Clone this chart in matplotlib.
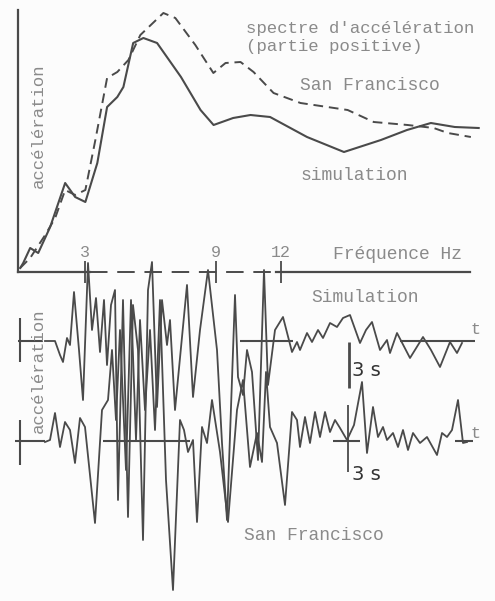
import matplotlib.pyplot as plt

# response spectrum (positive part): frequency in Hz, acceleration in arbitrary units
freq_sim = [0, 0.14, 0.46, 0.83, 1.38, 2.07, 2.53, 3.0, 3.55, 4.0, 4.47, 4.75, 5.2, 5.67,
            6.3, 7.4, 8.3, 8.9, 9.8, 10.6, 11.5, 13.2, 14.9, 16.6, 17.8, 18.9, 20.0, 21.1]
acc_sim = [0.4, 0.9, 2.4, 1.9, 4.5, 8.9, 7.5, 7.0, 10.9, 16.5, 17.5, 18.5, 22.9, 23.4,
           22.9, 19.5, 16.2, 14.7, 15.4, 15.7, 15.5, 13.5, 12.0, 13.2, 14.2, 14.9, 14.5, 14.4]
freq_sf = [0, 0.46, 1.15, 1.61, 2.07, 2.53, 3.0, 3.46, 4.0, 4.47, 4.98, 5.53, 6.59, 7.14,
           8.06, 8.89, 9.45, 10.14, 10.74, 11.66, 12.9, 15.07, 16.27, 17.83, 19.03, 19.68, 20.74]
acc_sf = [0.4, 1.4, 3.7, 5.4, 8.2, 7.7, 8.2, 13.2, 19.4, 20.0, 21.2, 23.7, 25.9, 25.4,
          22.7, 19.9, 20.9, 21.0, 20.0, 17.9, 16.9, 16.2, 15.0, 14.7, 14.4, 13.9, 13.5]
freq_ticks = [3, 9, 12]

# accelerograms: time in s, acceleration in arbitrary units
t_sim = [0, 1.0, 1.5, 1.8, 2.2, 2.5, 2.9, 3.4, 3.8, 4.3, 4.7, 5.1, 5.5, 5.9, 6.2, 6.6, 7.0,
         7.3, 7.8, 8.3, 8.8, 9.3, 9.8, 10.3, 10.7, 11.2, 11.7, 12.2, 12.5, 13.0, 14.2, 14.8,
         15.5, 16.3, 17.2, 17.7, 18.2, 19.0, 19.3, 19.8, 20.2, 20.7, 21.3, 21.9, 22.3, 23.0,
         23.8, 24.7, 25.2, 25.5, 26.2, 26.7, 27.3, 27.8, 28.5, 29.2, 29.8, 30.5, 31.5, 32.1,
         32.7, 33.5, 34.2, 34.5, 35.2, 36.5, 37.8, 38.6, 39.5, 40.5, 41.2, 41.7]
a_sim = [0, 0, -14, -21, 3, -4, 49, -9, -59, 78, 11, 43, -11, 41, -24, 36, 51,
         -159, 41, -176, 36, -9, -199, 51, 79, -66, 41, -4, 21, -69, 56, -56,
         11, 71, -9, -102, -179, 46, -36, -54, -9, -31, -119, 71, -44, 11,
         24, -11, -1, -9, 8, -1, 11, 3, 18, 14, 23, 26, -2, 11,
         19, -9, 1, -12, 8, -17, 4, -9, -26, -1, -12, -2]
t_sf = [0, 0.5, 1.0, 1.5, 2.0, 2.5, 3.0, 3.5, 4.0, 5.0, 5.7, 6.3, 6.7, 7.1, 7.5, 8.1, 8.6,
        9.1, 9.5, 10.0, 10.5, 11.0, 11.5, 12.1, 12.8, 13.5, 13.9, 14.3, 14.8, 15.2, 15.7,
        16.2, 16.7, 17.5, 18.3, 19.2, 19.8, 20.5, 21.2, 21.7, 22.1, 22.5, 23.2, 24.0, 24.7,
        25.2, 25.5, 26.0, 26.5, 27.0, 27.5, 28.0, 28.5, 29.0, 29.5, 30.2, 30.9, 31.7, 32.2,
        32.8, 33.3, 33.8, 34.2, 34.8, 35.3, 35.8, 36.3, 36.8, 37.5, 38.2, 39.2, 39.7, 40.2,
        40.7, 41.3, 41.8, 42.2]
a_sf = [-1, 1, 28, -6, 19, 11, -22, 23, 14, -82, 31, 41, 91, 21, 111, -29, 141,
        1, 121, 31, 111, 11, 141, -39, -149, 21, 11, -11, 1, -81, 14,
        -2, 41, -11, -81, 31, 61, -26, 8, -21, 69, 14, -2, -64, 29,
        21, -6, 24, -2, 29, 4, 29, 9, 21, 13, 1, 16, 59, -12,
        34, 4, 14, 1, 8, -6, 11, -9, 8, -2, 4, -14, 8, 4,
        11, 41, -2, -1]

ink = '#4a4a4a'
grey_txt = '#8a8a8a'
mono = 'Liberation Mono'
W, H = 495, 601

fig = plt.figure(figsize=(W / 100, H / 100), dpi=100)
fig.patch.set_facecolor('#fcfcfc')

# --- spectrum panel
ax = fig.add_axes([18 / W, (H - 272) / H, (470 - 18) / W, (272 - 10) / H])
ax.set_facecolor('none')
ax.set_xlim(-0.1, 20.7)
ax.set_ylim(0, 26.2)
ax.plot(freq_sim, acc_sim, color=ink, lw=1.5, clip_on=False)
ax.plot(freq_sf, acc_sf, color=ink, lw=1.4, ls=(0, (5, 3)), clip_on=False)
for s in ['top', 'right', 'bottom']:
    ax.spines[s].set_visible(False)
ax.spines['left'].set_color(ink)
ax.spines['left'].set_linewidth(1.6)
ax.set_yticks([])
# frequency axis: solid, dashed in the middle, solid again
ax.axhline(0, 0, 0.16, color=ink, lw=1.6, clip_on=False)
ax.axhline(0, 0.16, 0.56, color=ink, lw=1.4, ls=(0, (9, 5)), clip_on=False)
ax.axhline(0, 0.57, 1.0, color=ink, lw=1.6, clip_on=False)
ax.set_xticks(freq_ticks)
ax.set_xticklabels([])
ax.tick_params(axis='x', direction='inout', length=16, width=1.3, color=ink)
for f in freq_ticks:
    ax.text(f, 1.2, str(f), ha='center', va='bottom', fontsize=12,
            family=mono, color=grey_txt)
ax.text(0.044, 0.56, 'accélération', rotation=90, transform=ax.transAxes, ha='center',
        va='center', fontsize=12.5, family=mono, color=grey_txt)

# --- accelerograms, each on its own transparent axes sharing the time scale
def trace_axes(baseline):
    a = fig.add_axes([0, 0, 1, 1])
    a.set_xlim(-4.5, 45)
    a.set_ylim(baseline - H, baseline)
    a.axis('off')
    a.patch.set_alpha(0)
    return a

ax_sim = trace_axes(341)
ax_sim.plot(t_sim, a_sim, color=ink, lw=1.3)
for t0, t1 in [(-2.7, -0.2), (19.5, 24.8), (35.5, 43.0)]:
    ax_sim.hlines(0, t0, t1, color=ink, lw=1.5)
ax_sim.vlines(-2.5, -21, 23, color=ink, lw=1.5)
ax_sim.vlines(30.4, -47, -1, color=ink, lw=2.0)
ax_sim.text(30.7, -29, '3 s', fontsize=14, color='#333333', va='center')
ax_sim.text(42.5, 11, 't', fontsize=12, family=mono, color=grey_txt, va='center')

ax_sf = trace_axes(441)
ax_sf.plot(t_sf, a_sf, color=ink, lw=1.3)
for t0, t1 in [(-3.0, 0.0), (5.8, 14.5), (28.8, 31.5), (41.0, 42.8)]:
    ax_sf.hlines(0, t0, t1, color=ink, lw=1.5)
ax_sf.vlines(-2.5, -24, 21, color=ink, lw=1.5)
ax_sf.vlines(30.3, -31, 36, color=ink, lw=1.3)
ax_sf.text(30.7, -33, '3 s', fontsize=14, color='#333333', va='center')
ax_sf.text(42.5, 8, 't', fontsize=12, family=mono, color=grey_txt, va='center')

ax_sf.text(38 / W, 1 - 371 / H, 'accélération', rotation=90, transform=ax_sf.transAxes,
           ha='center', va='center', fontsize=12.5, family=mono, color=grey_txt)

# --- captions
def label(x, y, s, size=13):
    fig.text(x / W, 1 - y / H, s, fontsize=size, family=mono, color=grey_txt,
             ha='left', va='center')

label(246, 28, "spectre d'accélération", 12.5)
label(246, 47, "(partie positive)", 12.5)
label(300, 86, "San Francisco")
label(300, 176, "simulation")
label(333, 254, "Fréquence Hz")
label(311, 298, "Simulation")
label(244, 535, "San Francisco")

fig.savefig('out.png', dpi=100, facecolor=fig.get_facecolor())
